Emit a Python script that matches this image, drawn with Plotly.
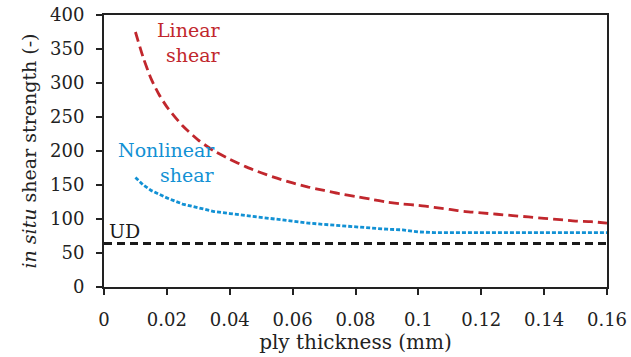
import plotly.graph_objects as go

thickness = [0.01, 0.0125, 0.015, 0.0175, 0.02, 0.025, 0.03, 0.035, 0.04, 0.045, 0.05, 0.055, 0.06,
             0.065, 0.07, 0.075, 0.08, 0.085, 0.09, 0.095, 0.1, 0.105, 0.11, 0.115,
             0.12, 0.125, 0.13, 0.135, 0.14, 0.145, 0.15, 0.155, 0.16]
linear_shear = [375, 337, 306, 283, 265, 237, 216, 200, 188, 177, 168, 160, 153,
                147, 142, 137, 133, 129, 125, 122, 120, 117, 114, 111,
                109, 107, 105, 103, 101, 99, 97, 96, 94]
nonlinear_shear = [161, 150, 142, 136, 131, 122, 116, 111, 108, 105, 103, 100, 96,
                   94, 92, 90, 88, 86, 85, 84, 81, 80, 80, 80,
                   80, 80, 80, 80, 80, 80, 80, 80, 80]
ud_x = [0, 0.16]
ud_y = [64, 64]

x_ticks = [0, 0.02, 0.04, 0.06, 0.08, 0.1, 0.12, 0.14, 0.16]
x_tick_text = ["0", "0.02", "0.04", "0.06", "0.08", "0.1", "0.12", "0.14", "0.16"]
y_ticks = [0, 50, 100, 150, 200, 250, 300, 350, 400]

RED = "#c1272d"
BLUE = "#1291d4"
INK = "#222222"
FONT = "DejaVu Serif"

fig = go.Figure()
fig.add_trace(go.Scatter(x=thickness, y=linear_shear, mode="lines",
                         line=dict(color=RED, width=2.8, dash="10px,5px", shape="spline",
                                   smoothing=0.6)))
fig.add_trace(go.Scatter(x=thickness, y=nonlinear_shear, mode="lines",
                         line=dict(color=BLUE, width=2.8, dash="4px,2px")))
fig.add_trace(go.Scatter(x=ud_x, y=ud_y, mode="lines",
                         line=dict(color="#1a1a1a", width=2.8, dash="8px,5px")))

ann_font = 19
fig.add_annotation(x=0.0379, y=378, text="Linear", showarrow=False, xanchor="right",
                   font=dict(color=RED, size=ann_font, family=FONT))
fig.add_annotation(x=0.0379, y=341, text="shear", showarrow=False, xanchor="right",
                   font=dict(color=RED, size=ann_font, family=FONT))
fig.add_annotation(x=0.0358, y=202, text="Nonlinear", showarrow=False, xanchor="right",
                   font=dict(color=BLUE, size=ann_font, family=FONT))
fig.add_annotation(x=0.0358, y=165, text="shear", showarrow=False, xanchor="right",
                   font=dict(color=BLUE, size=ann_font, family=FONT))
fig.add_annotation(x=0.0008, y=83, text="UD", showarrow=False, xanchor="left",
                   font=dict(color="#1a1a1a", size=ann_font, family=FONT))

fig.update_layout(
    width=631, height=357,
    margin=dict(l=104, r=24, t=15, b=70),
    plot_bgcolor="white", paper_bgcolor="white",
    showlegend=False,
    font=dict(family=FONT, size=18, color=INK),
)
fig.update_xaxes(range=[0, 0.16], tickvals=x_ticks, ticktext=x_tick_text,
                 showgrid=False, zeroline=False, showline=True, linecolor=INK,
                 linewidth=2, mirror=True, ticks="outside", ticklen=6, tickwidth=2,
                 tickcolor=INK, ticklabelstandoff=9, automargin=False,
                 tickfont=dict(size=18, family=FONT),
                 title=dict(text="ply thickness (mm)", standoff=2,
                            font=dict(size=20, family=FONT)))
fig.update_yaxes(range=[0, 400], tickvals=y_ticks,
                 showgrid=False, zeroline=False, showline=True, linecolor=INK,
                 linewidth=2, mirror=True, ticks="outside", ticklen=6, tickwidth=2,
                 tickcolor=INK, ticklabelstandoff=8, automargin=False,
                 tickfont=dict(size=18, family=FONT),
                 title=dict(text="<i>in situ</i> shear strength (-)", standoff=8,
                            font=dict(size=19, family=FONT)))

fig.write_html("out.html")
